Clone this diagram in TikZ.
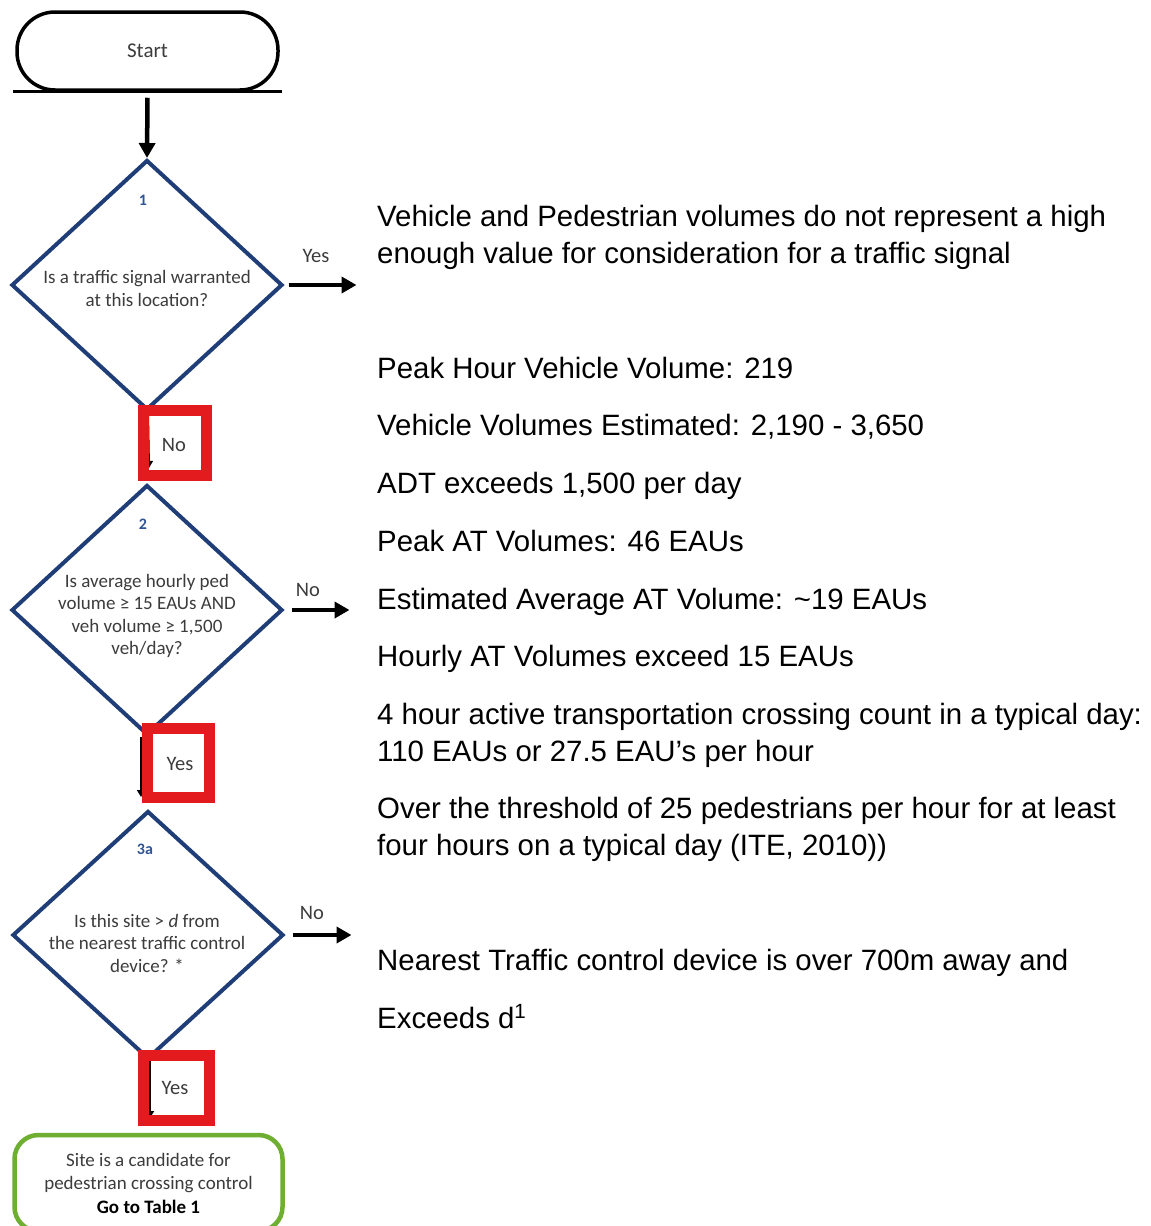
\documentclass[tikz,border=0pt]{standalone}
\usepackage{fontspec}
\setmainfont{Liberation Sans}
\newfontfamily\flowfont{Carlito}
\usetikzlibrary{shapes.geometric,arrows.meta}
\definecolor{dblue}{HTML}{1F3E78}
\definecolor{numblue}{HTML}{2F5597}
\definecolor{hired}{HTML}{E31B1E}
\definecolor{okgreen}{HTML}{6EAE30}
\definecolor{txtgray}{HTML}{3C3C3C}
\tikzset{
  decision/.style={shape=diamond, draw=dblue, line width=4pt, inner sep=0pt,
    minimum width=271pt, minimum height=250pt},
  qtext/.style={align=center, text=txtgray, inner sep=0pt,
    font=\flowfont\fontsize{19}{22.5}\selectfont},
  qnum/.style={text=numblue, inner sep=0pt, font=\flowfont\bfseries\fontsize{16}{18}\selectfont},
  answer/.style={text=txtgray, inner sep=0pt, font=\flowfont\fontsize{20.5}{24}\selectfont},
  redmark/.style={draw=hired, line width=11pt},
  bigarrow/.style={line width=4.5pt, -{Triangle[length=15pt,width=16pt]}},
  conn/.style={line width=2pt, -{Triangle[length=7pt,width=8pt]}},
  note/.style={anchor=base west, inner sep=0pt, font=\fontsize{29.4}{37}\selectfont}
}
\begin{document}
\begin{tikzpicture}[x=1pt,y=-1pt]
\useasboundingbox[fill=white] (0,0) rectangle (1151,1226);

% start terminal
\node[draw, line width=3.5pt, rounded corners=38pt, minimum width=261pt, minimum height=78pt,
      text=txtgray, font=\flowfont\fontsize{21}{24}\selectfont] (start) at (147.5,51) {\raisebox{-2pt}{Start}};
\draw[line width=3pt] ([xshift=-2pt]start.south west) -- ([xshift=2pt]start.south east);

% decisions
\node[decision] (d1) at (147,285) {};
\node[qnum] (n1) at (143,200) {1};
\node[qtext] (t1) at (147,288.5) {Is a traffic signal warranted\\at this location?};

\node[decision] (d2) at (147,610) {};
\node[qnum] (n2) at (143,524) {2};
\node[qtext] (t2) at (147,616) {Is average hourly ped\\volume ≥ 15 EAUs AND\\veh volume ≥ 1,500\\veh/day?};

\node[decision, minimum height=248pt] (d3) at (148,935) {};
\node[qnum] (n3) at (145,849) {3a};
\node[qtext] (t3) at (147,943) {Is this site > \textit{d} from\\the nearest traffic control\\device? *};

% outcome
\node[draw=okgreen, line width=4.5pt, rounded corners=24pt, minimum width=268pt, minimum height=96pt,
      align=center, text=txtgray, font=\flowfont\fontsize{19}{23.5}\selectfont] (finish) at (148.5,1183)
  {Site is a candidate for\\pedestrian crossing control\\{\bfseries\color{black}Go to Table 1}};

% connectors
\draw[bigarrow] (start.south) ++(0,6) coordinate (s0) -- (d1.north);
\draw[conn] ([xshift=1pt]d1.south) -- ++(1,56) coordinate (c1);
\draw[conn] ([xshift=-6pt]d2.south) -- ++(0,60) coordinate (c2);
\draw[conn] ([xshift=2pt]d3.south) -- ++(0,57) coordinate (c3);

\draw[bigarrow] ([xshift=4pt]d1.east) -- ++(68,0) coordinate (y1);
\node[answer] (lyes1) at (316,256) {Yes};
\draw[bigarrow] ([xshift=7pt]d2.east) -- ++(58,0) coordinate (y2);
\node[answer] (lno2) at (308,590) {No};
\draw[bigarrow] ([xshift=7pt]d3.east) -- ++(59,0) coordinate (y3);
\node[answer] (lno3) at (312,913) {No};

% highlighted answers
\draw[redmark] (143.5,410.5) rectangle (206.5,475.5);
\node[answer] (lno1) at (174,445) {No};
\draw[redmark] (147.5,728.5) rectangle (209.5,797.5);
\node[answer] (lyes2) at (180,764) {Yes};
\draw[redmark] (143.5,1055.5) rectangle (209.5,1120.5);
\node[answer] (lyes3) at (175,1088) {Yes};

% notes
\node[note] (r1) at (377,226) {Vehicle and Pedestrian volumes do not represent a high};
\node[note] (r2) at (377,263) {enough value for consideration for a traffic signal};
\node[note] (r3) at (377,378) {Peak Hour Vehicle Volume: 219};
\node[note] (r4) at (377,435) {Vehicle Volumes Estimated: 2,190 - 3,650};
\node[note] (r5) at (377,493) {ADT exceeds 1,500 per day};
\node[note] (r6) at (377,551) {Peak AT Volumes: 46 EAUs};
\node[note] (r7) at (377,609) {Estimated Average AT Volume: \textasciitilde19 EAUs};
\node[note] (r8) at (377,666) {Hourly AT Volumes exceed 15 EAUs};
\node[note] (r9) at (377,724) {4 hour active transportation crossing count in a typical day:};
\node[note] (r10) at (377,761) {110 EAUs or 27.5 EAU’s per hour};
\node[note] (r11) at (377,818) {Over the threshold of 25 pedestrians per hour for at least};
\node[note] (r12) at (377,855) {four hours on a typical day (ITE, 2010))};
\node[note] (r13) at (377,970) {Nearest Traffic control device is over 700m away and};
\node[note] (r14) at (377,1028) {Exceeds d\textsuperscript{1}};
\end{tikzpicture}
\end{document}
